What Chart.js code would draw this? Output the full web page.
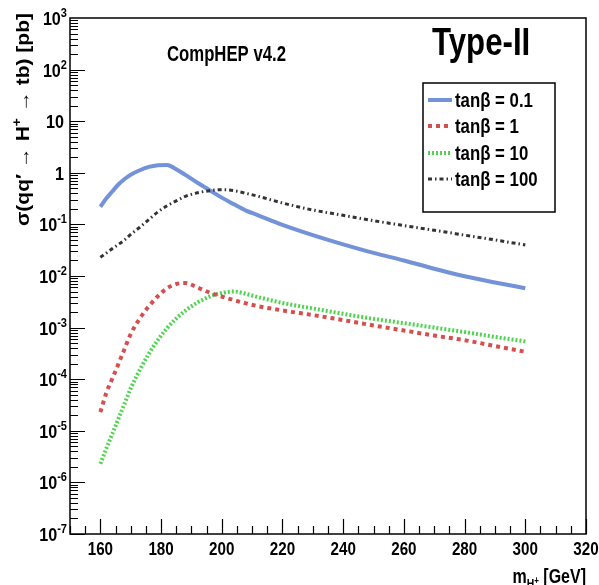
<!DOCTYPE html>
<html>
<head>
<meta charset="utf-8">
<title>Type-II charged Higgs cross section</title>
<script src="https://cdn.jsdelivr.net/npm/chart.js@4.4.1/dist/chart.umd.min.js"></script>
<style>
  html, body { margin: 0; padding: 0; background: #fff; }
  #wrap { width: 599px; height: 585px; }
</style>
</head>
<body>
<div id="wrap"><canvas id="xsecChart" width="599" height="585"></canvas></div>
<script>
// charged Higgs mass grid [GeV]
const masses = [160, 162, 164, 166, 168, 170, 173, 176, 179, 182, 185, 188, 192, 196,
                200, 204, 208, 212, 220, 230, 240, 250, 260, 270, 280, 290, 300];

// sigma(qq' -> H+ -> tb) [pb]
const xsecTanb01 = [0.22, 0.32, 0.44, 0.6, 0.76, 0.92, 1.12, 1.3, 1.4, 1.42, 1.17, 0.91, 0.64, 0.46,
                    0.33, 0.245, 0.185, 0.15, 0.098, 0.062, 0.041, 0.028, 0.02, 0.0138, 0.0099, 0.0075, 0.0058];
const xsecTanb1 = [2.3e-5, 5.5e-5, 1.05e-4, 2.0e-4, 3.9e-4, 7.5e-4, 1.5e-3, 2.6e-3, 4.1e-3, 5.8e-3, 7.0e-3, 7.3e-3, 6.0e-3, 4.75e-3,
                   4.0e-3, 3.4e-3, 2.95e-3, 2.6e-3, 2.15e-3, 1.75e-3, 1.4e-3, 1.1e-3, 8.8e-4, 7.0e-4, 5.7e-4, 4.4e-4, 3.4e-4];
const xsecTanb10 = [2.3e-6, 4.6e-6, 8.9e-6, 1.74e-5, 3.4e-5, 6.6e-5, 1.51e-4, 3.13e-4, 5.8e-4, 9.8e-4, 1.5e-3, 2.12e-3, 3.06e-3, 4.0e-3,
                    4.7e-3, 5.0e-3, 4.5e-3, 3.9e-3, 3.0e-3, 2.35e-3, 1.85e-3, 1.48e-3, 1.22e-3, 1.0e-3, 8.2e-4, 6.6e-4, 5.4e-4];
const xsecTanb100 = [0.023, 0.028, 0.034, 0.041, 0.05, 0.064, 0.088, 0.125, 0.175, 0.23, 0.285, 0.35, 0.41, 0.45,
                     0.47, 0.45, 0.4, 0.35, 0.26, 0.19, 0.15, 0.118, 0.095, 0.077, 0.062, 0.05, 0.04];

const seriesLabels = ['tan\u03B2 = 0.1', 'tan\u03B2 = 1', 'tan\u03B2 = 10', 'tan\u03B2 = 100'];

// axis ticks
const xTickLabels = [160, 180, 200, 220, 240, 260, 280, 300, 320];
const yDecades = [3, 2, 1, 0, -1, -2, -3, -4, -5, -6, -7];

const FAMILY = '"Liberation Sans", Arial, sans-serif';

function toPoints(ys) {
    return masses.map((m, i) => ({ x: m, y: ys[i] }));
}

// draws a run of text pieces (for sub/superscripts), squeezed horizontally by sx
function richText(ctx, parts, x, y, align, sx) {
    ctx.save();
    ctx.textBaseline = 'alphabetic';
    ctx.textAlign = 'left';
    let total = 0;
    const widths = parts.map(p => {
        ctx.font = 'bold ' + p.size + 'px ' + FAMILY;
        const w = ctx.measureText(p.t).width * sx;
        total += w;
        return w;
    });
    let cx = x;
    if (align === 'right') cx = x - total;
    else if (align === 'center') cx = x - total / 2;
    parts.forEach((p, i) => {
        ctx.save();
        ctx.font = 'bold ' + p.size + 'px ' + FAMILY;
        ctx.translate(cx, y + (p.dy || 0));
        ctx.scale(sx, 1);
        ctx.fillText(p.t, 0, 0);
        ctx.restore();
        cx += widths[i];
    });
    ctx.restore();
    return total;
}

const rootFrame = {
    id: 'rootFrame',
    afterDraw(chart) {
        const { ctx, chartArea: a, scales: { x, y } } = chart;
        ctx.save();
        ctx.fillStyle = '#000';
        ctx.strokeStyle = '#000';

        // frame
        ctx.lineWidth = 1.5;
        ctx.strokeRect(a.left, a.top, a.right - a.left, a.bottom - a.top);

        // x ticks (inside, every 5 GeV)
        ctx.lineWidth = 1.2;
        ctx.beginPath();
        for (let m = x.min; m <= x.max; m += 5) {
            const px = Math.round(x.getPixelForValue(m)) + 0.5;
            const len = m % 20 === 0 ? 15 : 8;
            ctx.moveTo(px, a.bottom);
            ctx.lineTo(px, a.bottom - len);
        }
        // y ticks (log, 1..9 per decade)
        for (let e = -7; e < 3; e++) {
            for (let k = 1; k < 10; k++) {
                const py = Math.round(y.getPixelForValue(k * Math.pow(10, e))) + 0.5;
                const len = k === 1 ? 15 : 8;
                ctx.moveTo(a.left, py);
                ctx.lineTo(a.left + len, py);
            }
        }
        ctx.stroke();

        // x tick labels
        xTickLabels.forEach(v => {
            richText(ctx, [{ t: String(v), size: 19 }], x.getPixelForValue(v), a.bottom + 21, 'center', 0.8);
        });

        // y tick labels
        yDecades.forEach(e => {
            const py = y.getPixelForValue(Math.pow(10, e));
            if (e === 0 || e === 1) {
                richText(ctx, [{ t: e === 0 ? '1' : '10', size: 19 }], 64, py + 7, 'right', 0.85);
            } else {
                richText(ctx, [{ t: '10', size: 19 }, { t: String(e), size: 13, dy: -8 }],
                    67, py + 7, 'right', 0.85);
            }
        });

        // x axis title
        richText(ctx, [
            { t: 'm', size: 20 },
            { t: 'H', size: 13, dy: 5 },
            { t: '+', size: 10, dy: 1 },
            { t: ' [GeV]', size: 20 }
        ], a.right, 583, 'right', 0.8);

        // y axis title (rotated, flush with top of the frame)
        ctx.save();
        ctx.translate(29, 13);
        ctx.rotate(-Math.PI / 2);
        ctx.scale(1, 0.85);
        richText(ctx, [
            { t: '\u03C3(qq\u2032 \u2192 H', size: 21 },
            { t: '+', size: 14, dy: -9 },
            { t: ' \u2192 tb) [pb]', size: 21 }
        ], 0, 0, 'right', 1);
        ctx.restore();

        // annotations
        richText(ctx, [{ t: 'CompHEP v4.2', size: 22 }], 167, 61, 'left', 0.76);
        richText(ctx, [{ t: 'Type-II', size: 39 }], 432, 55, 'left', 0.8);

        // legend box
        const lx = 423, ly = 83, lw = 132, lh = 129;
        ctx.fillStyle = '#fff';
        ctx.fillRect(lx, ly, lw, lh);
        ctx.lineWidth = 1.5;
        ctx.strokeStyle = '#000';
        ctx.strokeRect(lx, ly, lw, lh);
        const rowY = [100, 126, 153, 179];
        chart.data.datasets.forEach((ds, i) => {
            ctx.save();
            ctx.strokeStyle = ds.borderColor;
            ctx.lineWidth = ds.borderWidth;
            ctx.setLineDash(ds.borderDash || []);
            ctx.beginPath();
            ctx.moveTo(lx + 5, rowY[i]);
            ctx.lineTo(lx + 29, rowY[i]);
            ctx.stroke();
            ctx.restore();
            ctx.fillStyle = '#000';
            richText(ctx, [{ t: ds.label, size: 20 }], lx + 32, rowY[i] + 7, 'left', 0.84);
        });
        ctx.restore();
    }
};

const ctx = document.getElementById('xsecChart').getContext('2d');
new Chart(ctx, {
    type: 'line',
    data: {
        datasets: [{
            label: seriesLabels[0],
            data: toPoints(xsecTanb01),
            borderColor: '#7392d8',
            borderWidth: 4,
            borderDash: [],
            order: 1
        }, {
            label: seriesLabels[1],
            data: toPoints(xsecTanb1),
            borderColor: '#d64f4f',
            borderWidth: 4,
            borderDash: [4, 4],
            order: 2
        }, {
            label: seriesLabels[2],
            data: toPoints(xsecTanb10),
            borderColor: '#4fd44f',
            borderWidth: 4,
            borderDash: [2, 2],
            order: 3
        }, {
            label: seriesLabels[3],
            data: toPoints(xsecTanb100),
            borderColor: '#333333',
            borderWidth: 3,
            borderDash: [4, 3, 1.5, 3],
            order: 0
        }]
    },
    options: {
        responsive: false,
        animation: false,
        devicePixelRatio: 1,
        layout: { padding: { left: 70, top: 18, right: 13, bottom: 51 } },
        elements: {
            point: { radius: 0 },
            line: { cubicInterpolationMode: 'monotone', borderCapStyle: 'butt', fill: false }
        },
        plugins: {
            legend: { display: false },
            tooltip: { enabled: false }
        },
        scales: {
            x: { type: 'linear', min: 150, max: 320, display: false },
            y: { type: 'logarithmic', min: 1e-7, max: 1e3, display: false }
        }
    },
    plugins: [rootFrame]
});
</script>
</body>
</html>
